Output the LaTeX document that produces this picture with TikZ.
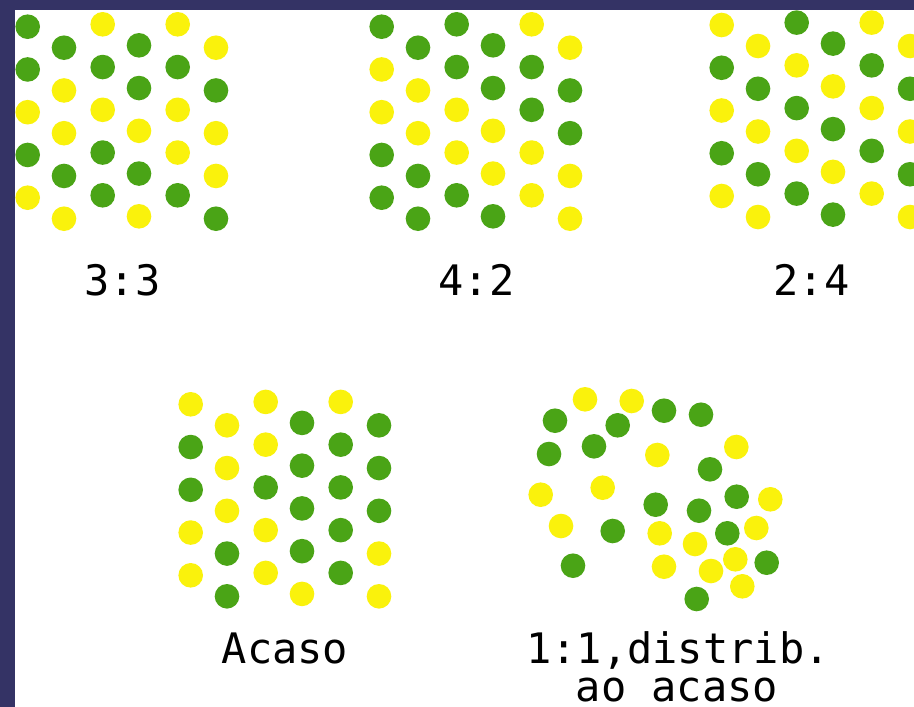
\documentclass[tikz,border=0pt]{standalone}
\usepackage{fontspec}
\setmonofont{DejaVu Sans Mono}
\definecolor{navy}{RGB}{52,51,101}
\definecolor{dotgreen}{RGB}{74,164,22}
\definecolor{dotyellow}{RGB}{250,242,12}
\colorlet{G}{dotgreen}
\colorlet{Y}{dotyellow}
\tikzset{
  lbl/.style={inner sep=0pt, anchor=base, font=\fontsize{42}{46}\selectfont\ttfamily},
  dotr/.style={radius=12.3}
}
\newcommand\dotpanel[3]{%
  \foreach \cl [count=\n from 0] in {#3} {
    \pgfmathtruncatemacro\ci{int(\n/5)}
    \pgfmathtruncatemacro\ri{mod(\n,5)}
    \pgfmathsetmacro\ox{{0,36.3,75,111.3,150,188.3}[\ci]}
    \pgfmathsetmacro\oy{{0,21,-2.4,18.6,-2.4,21}[\ci]}
    \pgfmathsetmacro\px{#1+\ox}
    \pgfmathsetmacro\py{#2+\oy+42.75*\ri}
    \fill[\cl] (\px,\py) circle[dotr];
  }}
\begin{document}
\begin{tikzpicture}[x=1pt,y=-1pt]
\useasboundingbox (0,0) rectangle (914,707);
\clip (0,0) rectangle (914,707);
\fill[navy] (0,0) rectangle (914,707);
\fill[white] (15,10) rectangle (914,707);
% panel 3:3
\dotpanel{27.7}{26.7}{G,G,Y,G,Y, G,Y,Y,G,Y, Y,G,Y,G,G, G,G,Y,G,Y, Y,G,Y,Y,G, Y,G,Y,Y,G}
% panel 4:2
\dotpanel{381.7}{26.7}{G,Y,Y,G,G, G,Y,Y,G,G, G,G,Y,Y,G, G,G,Y,Y,G, Y,G,G,Y,Y, Y,G,G,Y,Y}
% panel 2:4
\dotpanel{721.7}{25}{Y,G,Y,G,Y, Y,G,Y,G,Y, G,Y,G,Y,G, G,Y,G,Y,G, Y,G,Y,G,Y, Y,G,Y,G,Y}
% panel Acaso
\dotpanel{190.7}{404.3}{Y,G,G,Y,Y, Y,Y,Y,G,G, Y,Y,G,Y,Y, G,G,G,G,Y, Y,G,G,G,G, G,G,G,Y,Y}
% random panel
\foreach \x/\y/\cl in {
  585/399.3/Y, 631.7/401/Y, 555/420.7/G, 664/410.7/G, 701/414.7/G,
  617.7/425.3/G, 549/454/G, 594/446.3/G, 657.3/455/Y, 736.3/447/Y,
  710/469.3/G, 540.7/494.7/Y, 602.7/487.7/Y, 655.7/504.7/G, 699/510.7/G,
  736.7/496.7/G, 770.3/499.3/Y, 561/526/Y, 612.7/531/G, 659.7/533.3/Y,
  695/544/Y, 727.3/533.3/G, 756.3/528/Y, 573/565.7/G, 664/566.7/Y,
  711/571/Y, 735.3/559.3/Y, 766.7/562.7/G, 742.3/586.3/Y, 696.7/599/G}
  \fill[\cl] (\x,\y) circle[dotr];
% labels
\node[lbl] (r33) at (122.5,295) {3:3};
\node[lbl] (r42) at (476.5,295) {4:2};
\node[lbl] (r24) at (811.5,295) {2:4};
\node[lbl] (acaso) at (285,663.3) {Acaso};
\node[lbl] (dist1) at (678,663.3) {1:1,distrib.};
\node[lbl, text depth=0pt] (dist2) at (677,701) {ao acaso};
\end{tikzpicture}
\end{document}
